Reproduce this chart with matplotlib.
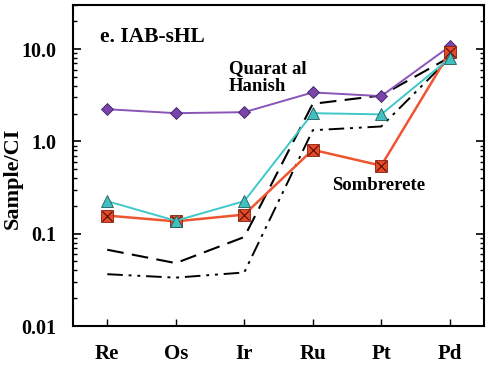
import numpy as np
import matplotlib
matplotlib.use("Agg")
import matplotlib.pyplot as plt
from matplotlib.ticker import FixedLocator, LogLocator, NullFormatter

elements = ["Re", "Os", "Ir", "Ru", "Pt", "Pd"]
quarat = [2.23, 2.02, 2.07, 3.39, 3.09, 10.7]
cyan_series = [0.225, 0.138, 0.225, 2.02, 1.96, 7.95]
sombrerete = [0.157, 0.136, 0.161, 0.81, 0.546, 9.2]
dashed = [0.067, 0.048, 0.092, 2.55, 3.14, 8.15]
dashdot = [0.0364, 0.0334, 0.038, 1.32, 1.45, 8.0]
ytick_labels = ["0.01", "0.1", "1.0", "10.0"]

plt.rcParams["font.family"] = ["Liberation Serif", "DejaVu Serif"]
plt.rcParams["font.weight"] = "bold"

fig = plt.figure(figsize=(4.89, 3.66), dpi=100)
ax = fig.add_axes([73 / 489, 40 / 366, 411 / 489, 321 / 366])
x = np.arange(len(elements))

ax.plot(x, dashdot, color="black", lw=1.4, dashes=(8, 3, 1.5, 3, 1.5, 3))
ax.plot(x, dashed, color="black", lw=1.5, dashes=(8, 4))
ax.plot(x, quarat, color="#8a55b8", lw=1.4, marker="D", ms=6,
        mfc="#7a45a8", mec="#3a2060", mew=0.6)
ax.plot(x, sombrerete, color="#ee5530", lw=1.8, marker="s", ms=8.5,
        mfc="#e84a28", mec="#802010", mew=0.6)
ax.plot(x, sombrerete, ls="none", marker="x", ms=7.5, mec="#501008", mew=0.8)
ax.plot(x, cyan_series, color="#40c8c8", lw=1.4, marker="^", ms=8,
        mfc="#40c0c0", mec="#205858", mew=0.6)

ax.set_yscale("log")
ax.set_ylim(0.01, 30)
ax.set_xlim(-0.5, 5.5)
ax.yaxis.set_major_locator(FixedLocator([0.01, 0.1, 1, 10]))
ax.set_yticklabels(ytick_labels)
ax.yaxis.set_minor_locator(LogLocator(base=10, subs=np.arange(2, 10)))
ax.yaxis.set_minor_formatter(NullFormatter())
ax.set_xticks(x)
ax.set_xticklabels(elements, fontsize=15, fontweight="bold")
for lab in ax.get_yticklabels():
    lab.set_fontsize(14.5)
    lab.set_fontweight("bold")

ax.tick_params(axis="both", which="both", direction="in", right=True)
ax.tick_params(axis="y", which="major", length=6, width=1.2, pad=12)
ax.tick_params(axis="y", which="minor", length=3, width=1)
ax.tick_params(axis="x", which="major", length=5, width=1, pad=13)
for s in ax.spines.values():
    s.set_linewidth(1.5)

fig.text(13 / 489, 1 - 178 / 366, "Sample/CI", rotation=90, fontsize=16,
         fontweight="bold", ha="center", va="center")

ax.text(0.065, 0.90, "e. IAB-sHL", transform=ax.transAxes, fontsize=15.5,
        fontweight="bold", va="center")
ax.text(1.78, 4.9, "Quarat al\nHanish", fontsize=13.5, fontweight="bold",
        linespacing=1.05, va="center")
ax.text(3.28, 0.33, "Sombrerete", fontsize=13.5, fontweight="bold", va="center")

fig.savefig("out.png", dpi=100)
